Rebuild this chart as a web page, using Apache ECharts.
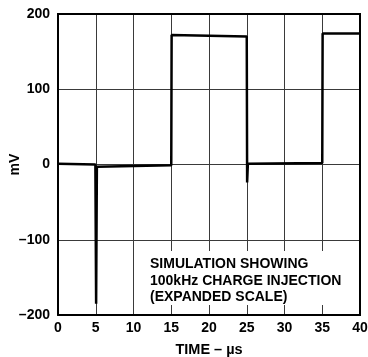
<!DOCTYPE html>
<html>
<head>
<meta charset="utf-8">
<script src="https://cdn.jsdelivr.net/npm/echarts@6/dist/echarts.min.js"></script>
<style>
  html, body { margin: 0; padding: 0; background: #fff; }
  #main { width: 368px; height: 357px; }
</style>
</head>
<body>
<div id="main"></div>
<script>
// time (µs) and output (mV)
const timeUs = [0, 4.95, 5.05, 5.15, 5.4, 15.0, 15.05, 25.0, 25.05, 25.15, 25.4, 35.0, 35.05, 40];
const outMv  = [1, 0, -185, -3, -1, -1, 172, 170, -24, 1, 2, 2, 174, 174];

const xTicks = [0, 5, 10, 15, 20, 25, 30, 35, 40];
const yTicks = [-200, -100, 0, 100, 200];

const noteLines = ['SIMULATION SHOWING', '100kHz CHARGE INJECTION', '(EXPANDED SCALE)'];

const font = 'Liberation Sans, Arial, sans-serif';

const chart = echarts.init(document.getElementById('main'));

chart.setOption({
    animation: false,
    backgroundColor: '#fff',
    grid: { left: 58, right: 8, top: 14, bottom: 42, containLabel: false, outerBoundsMode: 'none' },
    xAxis: {
        type: 'value',
        min: xTicks[0],
        max: xTicks[xTicks.length - 1],
        interval: 5,
        name: 'TIME – µs',
        nameLocation: 'middle',
        nameGap: 27,
        nameMoveOverlap: false,
        nameTextStyle: { color: '#000', fontWeight: 'bold', fontSize: 14.5, fontFamily: font },
        axisLine: { show: true, onZero: false, lineStyle: { color: '#000', width: 2 } },
        axisTick: { show: false },
        axisLabel: { color: '#000', fontWeight: 'bold', fontSize: 14, fontFamily: font, margin: 6 },
        splitLine: { show: true, lineStyle: { color: '#3a3a3a', width: 1 } }
    },
    yAxis: {
        type: 'value',
        min: yTicks[0],
        max: yTicks[yTicks.length - 1],
        interval: 100,
        name: 'mV',
        nameLocation: 'middle',
        nameGap: 36,
        nameRotate: 90,
        nameMoveOverlap: false,
        nameTextStyle: { color: '#000', fontWeight: 'bold', fontSize: 14, fontFamily: font },
        axisLine: { show: true, onZero: false, lineStyle: { color: '#000', width: 2 } },
        axisTick: { show: false },
        axisLabel: {
            color: '#000', fontWeight: 'bold', fontSize: 14, fontFamily: font, margin: 8,
            formatter: v => String(v).replace('-', '–')
        },
        splitLine: { show: true, lineStyle: { color: '#3a3a3a', width: 1 } }
    },
    graphic: [
        {
            type: 'rect',
            left: 142, top: 251,
            shape: { width: 208, height: 54 },
            style: { fill: '#fff' },
            z: 5
        },
        {
            type: 'text',
            left: 150, top: 256,
            style: {
                text: noteLines.join('\n'),
                font: 'bold 14px ' + font,
                lineHeight: 16.5,
                fill: '#000'
            },
            z: 6
        },
        {
            type: 'rect',
            left: 359, top: 13,
            shape: { width: 2, height: 303 },
            style: { fill: '#000' },
            z: 7
        },
        {
            type: 'rect',
            left: 57, top: 13,
            shape: { width: 304, height: 2 },
            style: { fill: '#000' },
            z: 7
        }
    ],
    series: [{
        type: 'line',
        data: timeUs.map((t, i) => [t, outMv[i]]),
        showSymbol: false,
        lineStyle: { color: '#000', width: 2.5 },
        z: 4
    }]
});
</script>
</body>
</html>
